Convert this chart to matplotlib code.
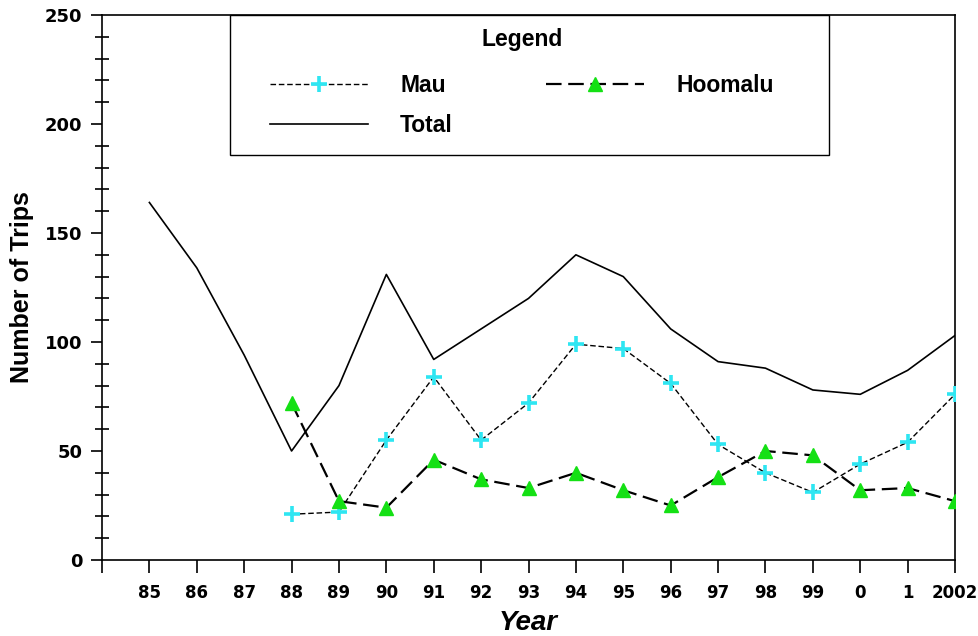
import matplotlib
matplotlib.use('Agg')
import matplotlib.pyplot as plt
from matplotlib.patches import Rectangle
from matplotlib.ticker import MultipleLocator, FixedLocator

# datos
anios = ['85', '86', '87', '88', '89', '90', '91', '92', '93', '94', '95',
         '96', '97', '98', '99', '0', '1', '2002']
total = [164, 134, 94, 50, 80, 131, 92, 106, 120, 140, 130,
         106, 91, 88, 78, 76, 87, 103]
# Mau y Hoomalu empiezan en 88
mau = [21, 22, 55, 84, 55, 72, 99, 97, 81, 53, 40, 31, 44, 54, 76]
hoomalu = [72, 27, 24, 46, 37, 33, 40, 32, 25, 38, 50, 48, 32, 33, 27]
inicio = anios.index('88')

fuente = 'Liberation Sans'

fig = plt.figure(figsize=(9.79, 6.36), dpi=100)
ax = fig.add_axes([0.1042, 0.1195, 0.8713, 0.8569])

x_total = list(range(len(anios)))
x_sub = list(range(inicio, len(anios)))

l_mau, = ax.plot(x_sub, mau, color='black', lw=1.0, ls=(0, (4, 2)),
                 marker='+', ms=11, mew=2.6, mec='#2ee6f2', mfc='#2ee6f2',
                 label='Mau', zorder=3)
l_tot, = ax.plot(x_total, total, color='black', lw=1.2, label='Total', zorder=2)
l_hoo, = ax.plot(x_sub, hoomalu, color='black', lw=1.6, ls=(0, (7, 3)),
                 marker='^', ms=10.5, mec='#14e014', mfc='#14e014',
                 label='Hoomalu', zorder=3)

ax.set_xlim(-1, len(anios) - 1)
ax.set_ylim(0, 250)

# ticks del eje x (incluye uno en el borde izquierdo)
ax.xaxis.set_major_locator(FixedLocator(range(-1, len(anios))))
ax.set_xticklabels([''] + anios)
ax.tick_params(axis='x', direction='out', length=9, width=1.2, pad=8,
               labelsize=12)
for t in ax.get_xticklabels():
    t.set_fontfamily('DejaVu Sans')
    t.set_fontweight('heavy')

ax.yaxis.set_major_locator(MultipleLocator(50))
ax.yaxis.set_minor_locator(MultipleLocator(10))
ax.tick_params(axis='y', which='major', direction='out', length=8, width=1.2,
               pad=6, labelsize=13)
ax.tick_params(axis='y', which='minor', direction='inout', length=10, width=1.2)
for t in ax.get_yticklabels():
    t.set_fontfamily('DejaVu Sans')
    t.set_fontweight('heavy')

for s in ax.spines.values():
    s.set_linewidth(1.2)

ax.set_xlabel('Year', fontfamily=fuente, fontweight='bold', fontstyle='italic',
              fontsize=20, labelpad=6)
ax.set_ylabel('Number of Trips', fontfamily=fuente, fontweight='bold',
              fontsize=18, labelpad=8)

# marco de la leyenda
marco = Rectangle((0.150, 0.743), 0.702, 0.257, transform=ax.transAxes,
                  fill=True, facecolor='white', edgecolor='black', lw=1.0,
                  zorder=4, clip_on=False)
ax.add_patch(marco)

# leyenda con titulo, dos columnas
tam = 16.5
leg = ax.legend(handles=[l_mau, l_tot, l_hoo], ncol=2, loc='upper left',
                bbox_to_anchor=(0.197, 0.9765), title='Legend', numpoints=1,
                handlelength=4.28, handletextpad=1.4, columnspacing=4.06,
                borderpad=0, labelspacing=0.72, borderaxespad=0,
                frameon=False,
                prop={'family': fuente, 'weight': 'bold', 'size': tam},
                title_fontproperties={'family': fuente, 'weight': 'bold',
                                      'size': tam})
leg.set_zorder(5)
# mas espacio entre el titulo y las filas
leg._legend_box.sep = 16.8

fig.savefig('out.png', dpi=100)
